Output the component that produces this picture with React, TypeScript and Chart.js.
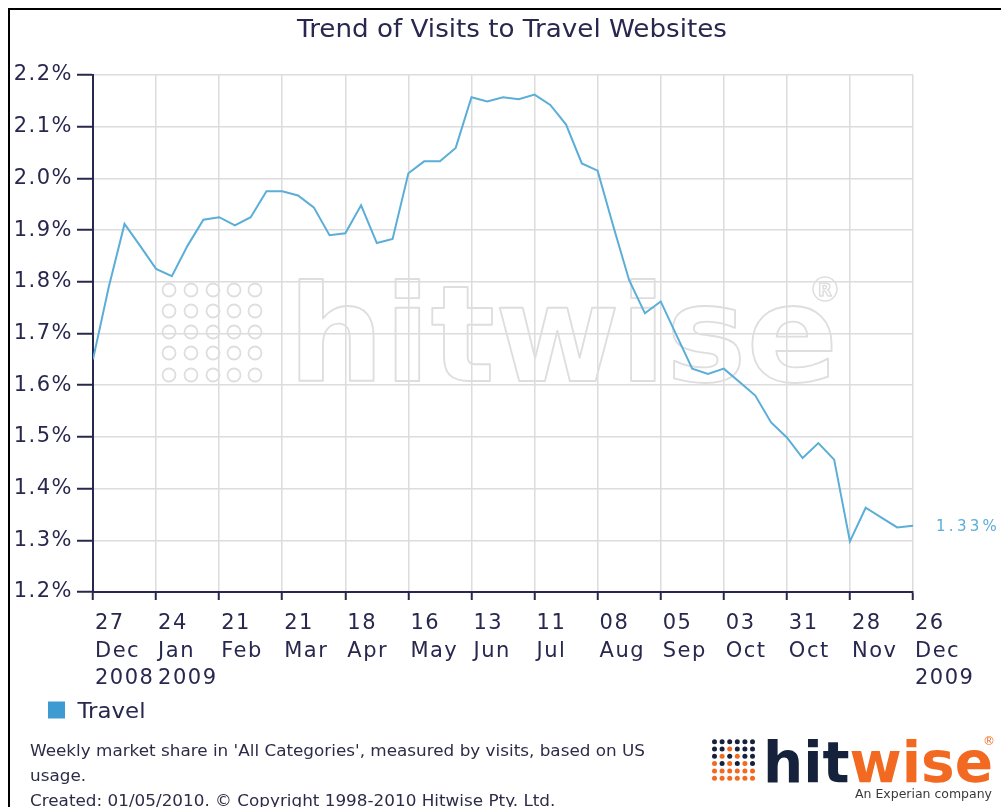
import React, { useEffect, useRef } from "react";
import { Chart, registerables } from "chart.js";

Chart.register(...registerables);

// ---------- data ----------
const TITLE = "Trend of Visits to Travel Websites";
const SERIES_LABEL = "Travel";

// weekly market share (%) from 27 Dec 2008 to 26 Dec 2009
const travelShare = [
  1.65, 1.79, 1.912, 1.869, 1.825, 1.811, 1.87, 1.92, 1.925, 1.909,
  1.925, 1.975, 1.975, 1.967, 1.944, 1.89, 1.894, 1.948, 1.875, 1.883,
  2.01, 2.033, 2.033, 2.059, 2.157, 2.149, 2.157, 2.153, 2.162, 2.142,
  2.104, 2.029, 2.015, 1.907, 1.803, 1.739, 1.762, 1.697, 1.632, 1.622,
  1.632, 1.606, 1.58, 1.528, 1.499, 1.459, 1.488, 1.456, 1.298, 1.363,
  1.344, 1.325, 1.328,
];

const tickDays = ["27", "24", "21", "21", "18", "16", "13", "11", "08", "05", "03", "31", "28", "26"];
const tickMonths = ["Dec", "Jan", "Feb", "Mar", "Apr", "May", "Jun", "Jul", "Aug", "Sep", "Oct", "Oct", "Nov", "Dec"];
const tickYears = ["2008", "2009", "", "", "", "", "", "", "", "", "", "", "", "2009"];
const WEEKS_PER_TICK = 4;

const Y_MIN = 1.2;
const Y_MAX = 2.2;
const Y_STEP = 0.1;

const footnoteLines = [
  "Weekly market share in 'All Categories', measured by visits, based on US",
  "usage.",
  "Created: 01/05/2010. \u00A9 Copyright 1998-2010 Hitwise Pty. Ltd.",
];

// ---------- styles ----------
const NAVY = "#28284f";
const LINE_BLUE = "#5aaed8";
const LEGEND_BLUE = "#3d9bd1";
const GRID = "#dcdcdc";
const WM = "#dedede";
const LOGO_NAVY = "#16213b";
const LOGO_ORANGE = "#f26a21";
const FONT = '"DejaVu Sans", Verdana, sans-serif';

function stretchText(
  ctx: CanvasRenderingContext2D,
  text: string,
  x: number,
  y: number,
  width: number,
  mode: "fill" | "stroke" = "fill"
) {
  ctx.save();
  ctx.letterSpacing = "0px";
  ctx.textAlign = "left";
  const w = ctx.measureText(text).width;
  ctx.translate(x, y);
  ctx.scale(width / w, 1);
  if (mode === "fill") ctx.fillText(text, 0, 0);
  else ctx.strokeText(text, 0, 0);
  ctx.restore();
}

const decorPlugin = {
  id: "decor",
  beforeDraw(chart: any) {
    chart.ctx.letterSpacing = "1.5px";
  },
  beforeDatasetsDraw(chart: any) {
    const ctx: CanvasRenderingContext2D = chart.ctx;
    ctx.letterSpacing = "0px";
    // watermark
    ctx.save();
    ctx.strokeStyle = WM;
    ctx.lineWidth = 1.8;
    const rows = [290, 311, 332, 353, 375];
    const cols = [169, 191, 213, 234, 255];
    for (const ry of rows) {
      for (const cx of cols) {
        ctx.beginPath();
        ctx.arc(cx, ry, 6.5, 0, Math.PI * 2);
        ctx.stroke();
      }
    }
    ctx.font = `bold 134px ${FONT}`;
    ctx.textBaseline = "alphabetic";
    ctx.lineJoin = "round";
    stretchText(ctx, "hitwise", 288, 381, 550, "stroke");
    ctx.lineWidth = 1.5;
    ctx.beginPath();
    ctx.arc(825, 289, 12, 0, Math.PI * 2);
    ctx.stroke();
    ctx.font = `bold 18px ${FONT}`;
    ctx.textAlign = "center";
    ctx.strokeText("R", 825, 296);
    ctx.restore();
  },
  afterDraw(chart: any) {
    const ctx: CanvasRenderingContext2D = chart.ctx;
    const yScale = chart.scales.y;
    ctx.save();
    ctx.letterSpacing = "0px";
    ctx.textBaseline = "alphabetic";

    // frame
    ctx.fillStyle = "#000";
    ctx.fillRect(8, 8, chart.width - 8, 2);
    ctx.fillRect(8, 8, 2, chart.height - 8);

    // title
    ctx.fillStyle = NAVY;
    ctx.font = `24px ${FONT}`;
    stretchText(ctx, TITLE, 297, 37, 430);

    // end value label
    const last = travelShare[travelShare.length - 1];
    ctx.fillStyle = LINE_BLUE;
    ctx.font = `15px ${FONT}`;
    ctx.letterSpacing = "3.3px";
    ctx.textAlign = "left";
    ctx.textBaseline = "middle";
    ctx.fillText(last.toFixed(2) + "%", 936, yScale.getPixelForValue(last) + 1);
    ctx.letterSpacing = "0px";
    ctx.textBaseline = "alphabetic";

    // legend
    const ds = chart.data.datasets[0];
    ctx.fillStyle = ds.backgroundColor;
    ctx.fillRect(48, 701.5, 17, 17);
    ctx.fillStyle = NAVY;
    ctx.font = `21px ${FONT}`;
    stretchText(ctx, ds.label, 77.5, 717.7, 68);

    // footnote
    ctx.fillStyle = "#2c2c48";
    ctx.font = `16.5px ${FONT}`;
    const w0 = ctx.measureText(footnoteLines[0]).width;
    const sx = 615 / w0;
    footnoteLines.forEach((t, i) => {
      const w = ctx.measureText(t).width;
      stretchText(ctx, t, 30, 755.7 + i * 25.3, w * sx);
    });

    // hitwise logo
    const dotPattern = [
      "NNNNNN",
      "NNONNN",
      "NONONN",
      "ONONON",
      "OOOOOO",
      "OOOOOO",
    ];
    dotPattern.forEach((row, r) => {
      row.split("").forEach((c, k) => {
        ctx.fillStyle = c === "N" ? LOGO_NAVY : LOGO_ORANGE;
        ctx.beginPath();
        ctx.arc(714.5 + k * 7.6, 741.7 + r * 7.3, 2.5, 0, Math.PI * 2);
        ctx.fill();
      });
    });
    ctx.font = `bold 57px ${FONT}`;
    const wHit = ctx.measureText("hit").width;
    const wAll = ctx.measureText("hitwise").width;
    const lsx = 230 / wAll;
    ctx.fillStyle = LOGO_NAVY;
    stretchText(ctx, "hit", 763, 782, wHit * lsx);
    ctx.fillStyle = LOGO_ORANGE;
    const wWise = ctx.measureText("wise").width;
    stretchText(ctx, "wise", 763 + wHit * lsx, 782, wWise * lsx);
    ctx.font = `12px ${FONT}`;
    ctx.fillText("\u00AE", 983, 745);
    ctx.fillStyle = "#3a3a3a";
    ctx.font = `12px ${FONT}`;
    stretchText(ctx, "An Experian company", 855, 797.5, 137);

    ctx.restore();
  },
};

export default function App() {
  const canvasRef = useRef<HTMLCanvasElement | null>(null);

  useEffect(() => {
    const canvas = canvasRef.current;
    if (!canvas) return;
    const tickFont = { family: FONT, size: 21, lineHeight: 1.31 };
    const chart = new Chart(canvas, {
      type: "line",
      data: {
        datasets: [
          {
            label: SERIES_LABEL,
            data: travelShare.map((v, i) => ({ x: i, y: v })),
            borderColor: LINE_BLUE,
            backgroundColor: LEGEND_BLUE,
            borderWidth: 2,
            pointRadius: 0,
            tension: 0,
            fill: false,
          },
        ],
      },
      options: {
        responsive: false,
        animation: false,
        devicePixelRatio: 1,
        layout: { padding: { left: 0, right: 88, top: 75, bottom: 0 } },
        plugins: {
          legend: { display: false },
          title: { display: false },
          tooltip: { enabled: false },
        },
        scales: {
          x: {
            type: "linear",
            min: 0,
            max: travelShare.length - 1,
            afterFit: (s: any) => {
              s.height = 215;
            },
            ticks: {
              stepSize: WEEKS_PER_TICK,
              autoSkip: false,
              maxRotation: 0,
              minRotation: 0,
              align: "start",
              labelOffset: 2,
              padding: 10,
              color: NAVY,
              font: tickFont,
              callback: (value: any) => {
                const k = Math.round(Number(value) / WEEKS_PER_TICK);
                const lines = [tickDays[k], tickMonths[k]];
                if (tickYears[k]) lines.push(tickYears[k]);
                return lines;
              },
            },
            grid: {
              color: GRID,
              lineWidth: 1.5,
              tickColor: NAVY,
              tickLength: 8,
              tickWidth: 2,
            },
            border: { color: NAVY, width: 2 },
          },
          y: {
            min: Y_MIN,
            max: Y_MAX,
            afterFit: (s: any) => {
              s.width = 93;
            },
            ticks: {
              stepSize: Y_STEP,
              padding: 4,
              color: NAVY,
              font: tickFont,
              callback: (v: any) => Number(v).toFixed(1) + "%",
            },
            grid: {
              color: GRID,
              lineWidth: 1.5,
              tickColor: NAVY,
              tickLength: 16,
              tickWidth: 2,
            },
            border: { color: NAVY, width: 2 },
          },
        },
      } as any,
      plugins: [decorPlugin],
    });
    return () => chart.destroy();
  }, []);

  return (
    <canvas
      ref={canvasRef}
      width={1001}
      height={807}
      style={{ position: "absolute", left: 0, top: 0, width: 1001, height: 807, display: "block" }}
    />
  );
}
